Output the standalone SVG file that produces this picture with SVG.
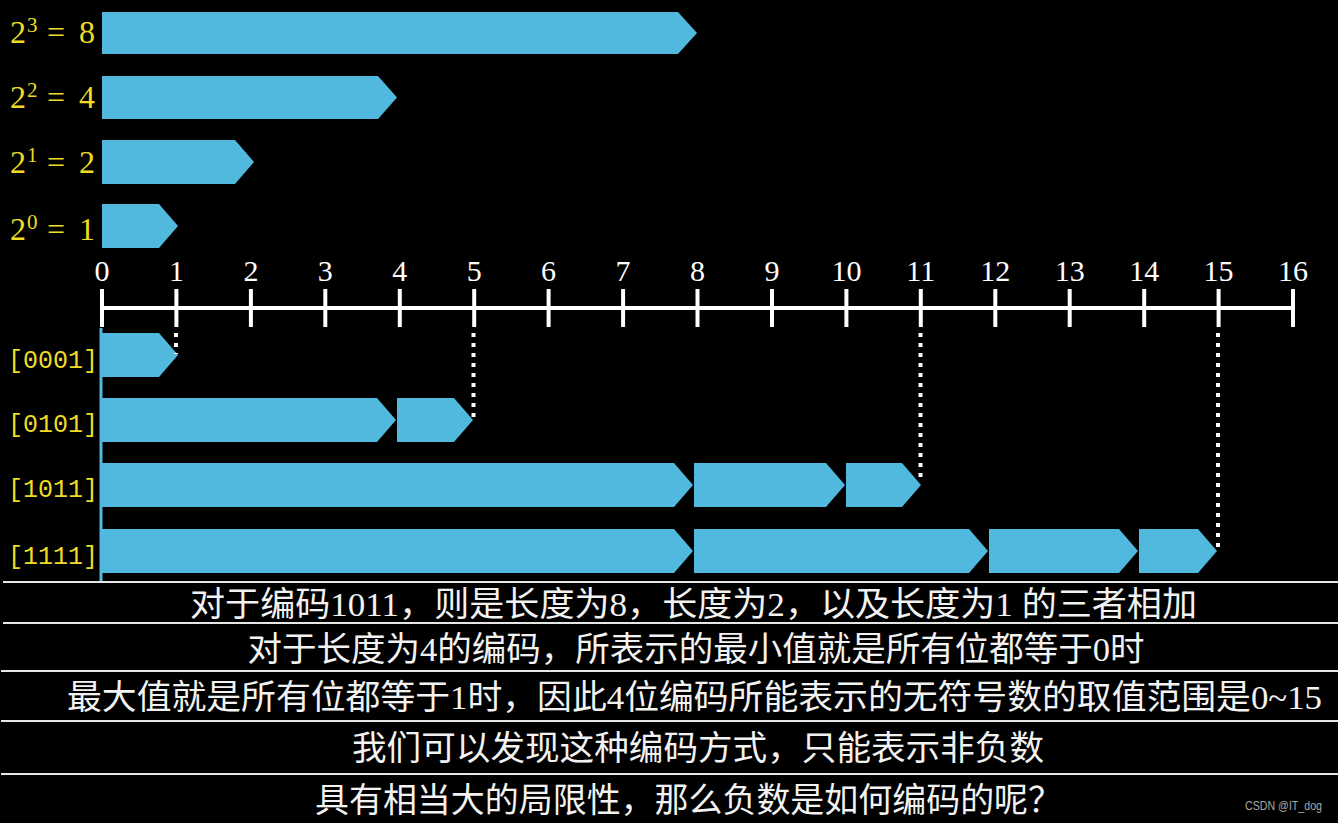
<svg xmlns="http://www.w3.org/2000/svg" width="1338" height="823" viewBox="0 0 1338 823">
  <style>
    .bar { fill: #51b9dd; }
    .pw { font-family: "Liberation Serif", serif; font-size: 32px; fill: #eedd22; }
    .sup { font-size: 21px; }
    .code { font-family: "Liberation Mono", monospace; font-size: 25px; fill: #eedd22; }
    .num { font-family: "Liberation Serif", serif; font-size: 30px; fill: #ffffff; text-anchor: middle; }
    .tick { stroke: #ffffff; stroke-width: 4; }
    .dot { stroke: #ffffff; stroke-width: 4; stroke-dasharray: 4 6; fill: none; }
    .sep { stroke: #e6e6e6; stroke-width: 2; }
    .sub { font-family: "Liberation Serif", "Noto Sans CJK SC", serif; font-size: 34px; fill: #f2f2f2; text-anchor: middle; }
    .wm { font-family: "Liberation Sans", "Noto Sans", sans-serif; font-size: 12px; fill: #a8a8a8; }
  </style>
  <rect x="0" y="0" width="1338" height="823" fill="#000000"/>

  <!-- powers of two -->
  <g id="power-bars">
    <g id="p8">
      <text class="pw" y="43"><tspan x="10">2</tspan><tspan class="sup" x="27" y="32">3</tspan><tspan x="47" y="43">=</tspan><tspan x="79" y="43">8</tspan></text>
      <polygon class="bar" points="102,12 678,12 697,33 678,54 102,54"/>
    </g>
    <g id="p4">
      <text class="pw" y="108"><tspan x="10">2</tspan><tspan class="sup" x="27" y="97">2</tspan><tspan x="47" y="108">=</tspan><tspan x="79" y="108">4</tspan></text>
      <polygon class="bar" points="102,76 378,76 397,97.5 378,119 102,119"/>
    </g>
    <g id="p2">
      <text class="pw" y="173"><tspan x="10">2</tspan><tspan class="sup" x="27" y="162">1</tspan><tspan x="47" y="173">=</tspan><tspan x="79" y="173">2</tspan></text>
      <polygon class="bar" points="102,140 235,140 254,162 235,184 102,184"/>
    </g>
    <g id="p1">
      <text class="pw" y="240"><tspan x="10">2</tspan><tspan class="sup" x="27" y="229">0</tspan><tspan x="47" y="240">=</tspan><tspan x="79" y="240">1</tspan></text>
      <polygon class="bar" points="102,204 159,204 178,226 159,248 102,248"/>
    </g>
  </g>

  <!-- number line -->
  <g id="number-line">
    <line class="tick" x1="101" y1="308" x2="1293" y2="308"/>
    <line class="tick" x1="102" y1="289" x2="102" y2="327"/>
    <line class="tick" x1="176.4" y1="289" x2="176.4" y2="327"/>
    <line class="tick" x1="250.9" y1="289" x2="250.9" y2="327"/>
    <line class="tick" x1="325.3" y1="289" x2="325.3" y2="327"/>
    <line class="tick" x1="399.8" y1="289" x2="399.8" y2="327"/>
    <line class="tick" x1="474.2" y1="289" x2="474.2" y2="327"/>
    <line class="tick" x1="548.6" y1="289" x2="548.6" y2="327"/>
    <line class="tick" x1="623.1" y1="289" x2="623.1" y2="327"/>
    <line class="tick" x1="697.5" y1="289" x2="697.5" y2="327"/>
    <line class="tick" x1="772" y1="289" x2="772" y2="327"/>
    <line class="tick" x1="846.4" y1="289" x2="846.4" y2="327"/>
    <line class="tick" x1="920.8" y1="289" x2="920.8" y2="327"/>
    <line class="tick" x1="995.3" y1="289" x2="995.3" y2="327"/>
    <line class="tick" x1="1069.7" y1="289" x2="1069.7" y2="327"/>
    <line class="tick" x1="1144.2" y1="289" x2="1144.2" y2="327"/>
    <line class="tick" x1="1218.6" y1="289" x2="1218.6" y2="327"/>
    <line class="tick" x1="1293" y1="289" x2="1293" y2="327"/>
    <text class="num" x="102" y="281">0</text>
    <text class="num" x="176.4" y="281">1</text>
    <text class="num" x="250.9" y="281">2</text>
    <text class="num" x="325.3" y="281">3</text>
    <text class="num" x="399.8" y="281">4</text>
    <text class="num" x="474.2" y="281">5</text>
    <text class="num" x="548.6" y="281">6</text>
    <text class="num" x="623.1" y="281">7</text>
    <text class="num" x="697.5" y="281">8</text>
    <text class="num" x="772" y="281">9</text>
    <text class="num" x="846.4" y="281">10</text>
    <text class="num" x="920.8" y="281">11</text>
    <text class="num" x="995.3" y="281">12</text>
    <text class="num" x="1069.7" y="281">13</text>
    <text class="num" x="1144.2" y="281">14</text>
    <text class="num" x="1218.6" y="281">15</text>
    <text class="num" x="1293" y="281">16</text>
  </g>

  <!-- codes -->
  <g id="codes">
    <line x1="101" y1="328" x2="101" y2="581" stroke="#51b9dd" stroke-width="3"/>
    <g id="c0001">
      <text class="code" x="8" y="368">[0001]</text>
      <polygon class="bar" points="102,333 159,333 178,355 159,377 102,377"/>
    </g>
    <g id="c0101">
      <text class="code" x="8" y="432">[0101]</text>
      <polygon class="bar" points="102,398 377,398 396,420 377,442 102,442"/>
      <polygon class="bar" points="397,398 454,398 473,420 454,442 397,442"/>
    </g>
    <g id="c1011">
      <text class="code" x="8" y="497">[1011]</text>
      <polygon class="bar" points="102,463 674,463 693,485 674,507 102,507"/>
      <polygon class="bar" points="694,463 826,463 845,485 826,507 694,507"/>
      <polygon class="bar" points="846,463 902,463 921,485 902,507 846,507"/>
    </g>
    <g id="c1111">
      <text class="code" x="8" y="564">[1111]</text>
      <polygon class="bar" points="102,529 674,529 693,551 674,573 102,573"/>
      <polygon class="bar" points="694,529 969,529 988,551 969,573 694,573"/>
      <polygon class="bar" points="989,529 1119,529 1138,551 1119,573 989,573"/>
      <polygon class="bar" points="1139,529 1198,529 1217,551 1198,573 1139,573"/>
    </g>
  </g>

  <!-- connectors: dotted guides -->
  <g id="connectors">
    <line class="dot" x1="176" y1="333" x2="176" y2="354"/>
    <line class="dot" x1="473.5" y1="333" x2="473.5" y2="421"/>
    <line class="dot" x1="920.5" y1="333" x2="920.5" y2="479"/>
    <line class="dot" x1="1218" y1="333" x2="1218" y2="549"/>
  </g>

  <!-- subtitles -->
  <g id="subtitles">
    <rect x="2" y="582" width="1336" height="241" fill="#000000"/>
    <line class="sep" x1="3" y1="582" x2="1338" y2="582"/>
    <line class="sep" x1="3" y1="623" x2="1338" y2="623"/>
    <line class="sep" x1="1" y1="671" x2="1338" y2="671"/>
    <line class="sep" x1="1" y1="721" x2="1338" y2="721"/>
    <line class="sep" x1="1" y1="774" x2="1338" y2="774"/>
    <text class="sub" x="693.5" y="616" textLength="1007" lengthAdjust="spacingAndGlyphs">对于编码1011，则是长度为8，长度为2，以及长度为1 的三者相加</text>
    <text class="sub" x="696" y="661" textLength="897" lengthAdjust="spacingAndGlyphs">对于长度为4的编码，所表示的最小值就是所有位都等于0时</text>
    <text class="sub" x="694.5" y="709" textLength="1255" lengthAdjust="spacingAndGlyphs">最大值就是所有位都等于1时，因此4位编码所能表示的无符号数的取值范围是0~15</text>
    <text class="sub" x="698" y="760" textLength="692" lengthAdjust="spacingAndGlyphs">我们可以发现这种编码方式，只能表示非负数</text>
    <text class="sub" x="688.5" y="812" textLength="747" lengthAdjust="spacingAndGlyphs">具有相当大的局限性，那么负数是如何编码的呢？</text>
    <text class="wm" x="1245" y="810" textLength="77" lengthAdjust="spacingAndGlyphs">CSDN @IT_dog</text>
  </g>
</svg>
